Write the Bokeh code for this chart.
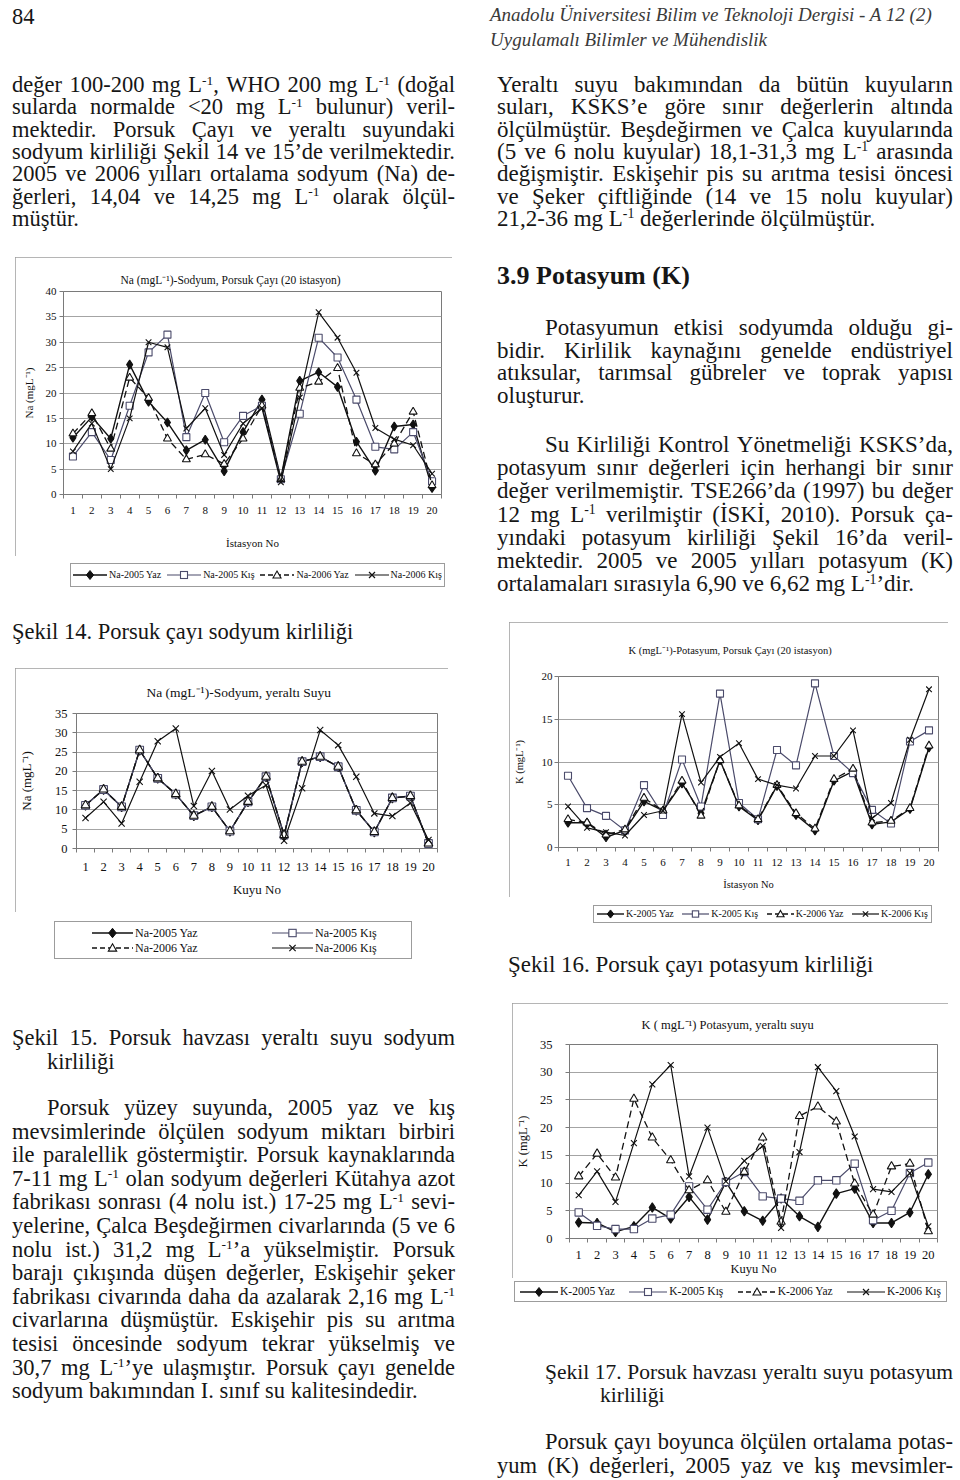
import re
from bokeh.plotting import figure
from bokeh.models import Div, FixedTicker, Range1d, Spacer
from bokeh.layouts import column, row
from bokeh.embed import file_html
from bokeh.resources import INLINE

SERIF = "Liberation Serif"

# ---------------- data ----------------
stations = list(range(1, 21))
season_names = ["2005 Yaz", "2005 Kış", "2006 Yaz", "2006 Kış"]

# Şekil 14 - Na, Porsuk Çayı (20 istasyon)
na_river_2005_yaz = [11.2, 15.3, 11.0, 25.6, 18.3, 14.2, 8.7, 10.8, 4.6, 12.3,
                     18.7, 3.2, 22.4, 24.1, 21.2, 10.4, 4.7, 13.4, 13.8, 1.3]
na_river_2005_kis = [7.5, 12.3, 6.8, 17.5, 28.0, 31.5, 11.3, 20.0, 10.3, 15.5,
                     17.5, 3.0, 15.9, 30.9, 27.0, 18.7, 9.4, 8.9, 12.3, 2.6]
na_river_2006_yaz = [12.0, 16.0, 9.0, 23.0, 19.0, 11.0, 6.9, 7.9, 6.0, 11.0,
                     17.5, 3.0, 21.0, 22.2, 24.9, 8.1, 5.9, 10.0, 16.3, 1.8]
na_river_2006_kis = [8.5, 14.0, 5.0, 15.0, 30.0, 29.0, 13.0, 17.0, 7.8, 14.0,
                     17.0, 2.4, 19.1, 35.9, 30.9, 24.0, 13.1, 10.9, 9.7, 4.1]

# Şekil 15 - Na, yeraltı suyu (20 kuyu)
na_well_2005_yaz = [11.2, 15.3, 10.8, 25.5, 18.2, 14.1, 8.5, 10.8, 4.5, 12.1,
                    18.6, 3.5, 22.5, 23.8, 21.2, 9.9, 4.3, 13.1, 13.6, 1.3]
na_well_2005_kis = [11.2, 15.3, 10.8, 25.5, 18.2, 14.1, 8.5, 10.8, 4.5, 12.1,
                    18.6, 3.5, 22.5, 23.8, 21.2, 9.9, 4.3, 13.1, 13.6, 1.3]
na_well_2006_yaz = [11.2, 15.3, 10.8, 25.5, 18.2, 14.1, 8.5, 10.8, 4.5, 12.1,
                    18.6, 3.5, 22.5, 23.8, 21.2, 9.9, 4.3, 13.1, 13.6, 1.3]
na_well_2006_kis = [7.9, 12.1, 6.5, 17.3, 27.8, 31.1, 11.0, 20.1, 10.1, 13.7,
                    16.4, 2.0, 15.6, 30.7, 26.8, 18.6, 9.1, 8.4, 11.8, 2.2]

# Şekil 16 - K, Porsuk Çayı (20 istasyon)
k_river_2005_yaz = [2.9, 2.9, 1.2, 2.0, 5.4, 4.3, 7.5, 4.0, 10.2, 4.8,
                    3.2, 7.2, 3.8, 2.0, 7.8, 8.9, 2.7, 3.0, 4.5, 11.7]
k_river_2005_kis = [8.4, 4.6, 3.7, 2.0, 7.3, 3.8, 10.3, 4.8, 18.0, 5.2,
                    3.3, 11.4, 9.6, 19.2, 10.7, 8.7, 4.4, 2.8, 12.4, 13.7]
k_river_2006_yaz = [3.3, 2.9, 1.5, 2.1, 5.8, 4.3, 7.8, 3.7, 10.2, 4.9,
                    3.3, 7.3, 4.0, 2.2, 8.0, 9.2, 2.9, 3.1, 4.6, 11.9]
k_river_2006_kis = [4.8, 2.3, 1.8, 1.4, 3.8, 4.3, 15.6, 7.6, 10.6, 12.2,
                    8.0, 7.3, 6.9, 10.7, 10.7, 13.7, 3.4, 5.2, 12.6, 18.5]

# Şekil 17 - K, yeraltı suyu (20 kuyu)
k_well_2005_yaz = [2.9, 2.8, 1.2, 2.2, 5.6, 3.6, 7.5, 3.4, 10.2, 4.9,
                   3.2, 7.2, 4.0, 2.1, 8.1, 9.0, 2.8, 2.8, 4.7, 11.6]
k_well_2005_kis = [4.7, 2.3, 1.7, 1.7, 3.6, 4.3, 9.4, 5.2, 10.2, 12.0,
                   7.6, 7.2, 6.8, 10.5, 10.5, 13.5, 3.3, 5.0, 11.8, 13.7]
k_well_2006_yaz = [11.2, 15.3, 11.0, 25.2, 18.2, 14.1, 8.7, 10.5, 4.8, 12.0,
                   18.2, 3.0, 22.1, 23.8, 21.1, 9.9, 4.3, 13.0, 13.5, 1.3]
k_well_2006_kis = [7.8, 12.1, 6.6, 17.2, 27.8, 31.3, 11.2, 20.0, 10.3, 14.0,
                   16.7, 1.9, 15.6, 30.9, 26.6, 18.4, 8.9, 8.4, 11.8, 2.2]

# ---------------- styles ----------------
STYLE = {
    "2005 Yaz": dict(marker="diamond", color="#111111", fill="#111111", dash="solid", size=9, lw=1.4),
    "2005 Kış": dict(marker="square", color="#4b4b6b", fill="white", dash="solid", size=7, lw=1.2),
    "2006 Yaz": dict(marker="triangle", color="#111111", fill="white", dash="7 4", size=8, lw=1.3),
    "2006 Kış": dict(marker="x", color="#111111", fill=None, dash="solid", size=8, lw=1.2),
}
BOX = {"outline": "1px solid #9c9c9c", "outline-offset": "-1px"}


def make_plot(cfg, series):
    p = figure(width=cfg["w"], height=cfg["h"],
               x_range=Range1d(0.5, 20.5), y_range=Range1d(0, cfg["ymax"]),
               output_backend="svg", toolbar_location=None,
               min_border_left=cfg["ml"], min_border_right=cfg["mr"],
               min_border_top=cfg["mt"], min_border_bottom=cfg["mb"])
    p.background_fill_color = "white"
    p.border_fill_color = "white"
    p.outline_line_color = "#7a7a7a"

    p.title.text = cfg["title"]
    p.title.text_font = SERIF
    p.title.text_font_size = cfg["title_size"]
    p.title.text_font_style = "normal"
    p.title.text_color = "#111111"
    p.title.align = "left"
    p.title.offset = cfg["title_off"]
    p.title.standoff = cfg["title_stand"]

    xa = p.xaxis[0]
    xa.ticker = FixedTicker(ticks=stations, minor_ticks=[s + 0.5 for s in range(0, 21)])
    xa.major_tick_line_color = None
    xa.minor_tick_in = 0
    xa.minor_tick_out = 4
    xa.minor_tick_line_color = "#7a7a7a"
    xa.axis_line_color = "#7a7a7a"
    xa.major_label_text_font = SERIF
    xa.major_label_text_font_size = cfg["tick_size"]
    xa.major_label_text_color = "#111111"
    xa.major_label_standoff = cfg["xstand"]
    xa.axis_label = cfg["xlabel"]
    xa.axis_label_text_font = SERIF
    xa.axis_label_text_font_size = cfg["label_size"]
    xa.axis_label_text_font_style = "normal"
    xa.axis_label_text_color = "#111111"
    xa.axis_label_standoff = cfg["xlab_stand"]

    ya = p.yaxis[0]
    ya.ticker = FixedTicker(ticks=list(range(0, cfg["ymax"] + 1, 5)), minor_ticks=[])
    ya.major_tick_in = 0
    ya.major_tick_out = 4
    ya.major_tick_line_color = "#7a7a7a"
    ya.axis_line_color = "#7a7a7a"
    ya.major_label_text_font = SERIF
    ya.major_label_text_font_size = cfg["tick_size"]
    ya.major_label_text_color = "#111111"
    ya.major_label_standoff = cfg["ystand"]
    ya.axis_label = cfg["ylabel"]
    ya.axis_label_text_font = SERIF
    ya.axis_label_text_font_size = cfg["label_size"]
    ya.axis_label_text_font_style = "normal"
    ya.axis_label_text_color = "#111111"
    ya.axis_label_standoff = cfg["ylab_stand"]

    p.xgrid.visible = False
    p.ygrid.grid_line_color = "#a4a4a4"
    p.ygrid.grid_line_width = 1

    for name, ys in zip(season_names, series):
        st = STYLE[name]
        p.line(stations, ys, line_color=st["color"], line_width=st["lw"], line_dash=st["dash"])
        p.scatter(stations, ys, marker=st["marker"], size=st["size"] * cfg["msize"],
                  line_color=st["color"], fill_color=st["fill"], line_width=1.1)
    return p


# ---------------- legend (key) strip under each chart ----------------
def key_icon(name, w, h, scale):
    st = STYLE[name]
    cy, cx = h / 2, w / 2
    r = st["size"] * scale / 2
    dash = ' stroke-dasharray="5 3"' if st["dash"] != "solid" else ""
    out = [f'<line x1="0" y1="{cy}" x2="{w}" y2="{cy}" stroke="{st["color"]}" '
           f'stroke-width="{st["lw"]}"{dash}/>']
    m = st["marker"]
    if m == "diamond":
        out.append(f'<polygon points="{cx},{cy - r} {cx + r * 0.8},{cy} {cx},{cy + r} {cx - r * 0.8},{cy}" '
                   f'fill="{st["fill"]}" stroke="{st["color"]}" stroke-width="1"/>')
    elif m == "square":
        out.append(f'<rect x="{cx - r}" y="{cy - r}" width="{2 * r}" height="{2 * r}" '
                   f'fill="white" stroke="{st["color"]}" stroke-width="1.1"/>')
    elif m == "triangle":
        out.append(f'<polygon points="{cx},{cy - r} {cx + r},{cy + r * 0.75} {cx - r},{cy + r * 0.75}" '
                   f'fill="white" stroke="{st["color"]}" stroke-width="1.1"/>')
    else:
        k = r * 0.75
        out.append(f'<path d="M{cx - k},{cy - k} L{cx + k},{cy + k} M{cx - k},{cy + k} L{cx + k},{cy - k}" '
                   f'stroke="{st["color"]}" stroke-width="1.2" fill="none"/>')
    return f'<svg width="{w}" height="{h}" style="display:block;flex:none;">{"".join(out)}</svg>'


def key_item(prefix, name, kc):
    return (f'<div style="display:flex;align-items:center;white-space:nowrap;">'
            f'{key_icon(name, kc["glyph_w"], kc["glyph_h"], kc["scale"])}'
            f'<span style="margin-left:{kc["standoff"]}px;font-size:{kc["size"]}px;line-height:1;">'
            f'{prefix}-{name}</span></div>')


def key_div(cfg, prefix):
    kc = cfg["key"]
    bx = (f'position:absolute;left:{kc["left"]}px;top:{kc["top"]}px;width:{kc["bw"]}px;'
          f'height:{kc["bh"]}px;border:1px solid #9c9c9c;box-sizing:border-box;background:white;')
    if "rows" in kc:
        inner = ""
        for yc, entries in kc["rows"]:
            for idx, xr in entries:
                inner += (f'<div style="position:absolute;left:{xr}px;top:{yc - kc["glyph_h"] / 2}px;">'
                          f'{key_item(prefix, season_names[idx], kc)}</div>')
        box = f'<div style="{bx}">{inner}</div>'
    else:
        items = "".join(key_item(prefix, n, kc) for n in season_names)
        box = (f'<div style="{bx}display:flex;align-items:center;justify-content:space-between;'
               f'padding:0 {kc["pad"]}px;">{items}</div>')
    html = (f'<div style="position:relative;width:{cfg["w"]}px;height:{kc["h"]}px;'
            f'font-family:\'Liberation Serif\',serif;color:#111;background:white;">{box}</div>')
    return Div(text=html, width=cfg["w"], height=kc["h"], margin=0)


cfg14 = dict(w=437, h=299, ml=48, mr=11, mt=34, mb=62, ymax=40,
             title="Na (mgL⁻¹)-Sodyum, Porsuk Çayı (20 istasyon)", title_size="11.5px",
             title_off=57, title_stand=11, tick_size="11px", label_size="11px",
             xstand=6, xlab_stand=20, ystand=3, ylab_stand=8,
             xlabel="İstasyon No", ylabel="Na (mgL⁻¹)", msize=1.0,
             key=dict(h=36, left=55, top=7, bw=375, bh=24, pad=2, size=10,
                      glyph_w=34, glyph_h=14, standoff=2, scale=1.0))
cfg15 = dict(w=433, h=244, ml=57, mr=11, mt=45, mb=64, ymax=35,
             title="Na (mgL⁻¹)-Sodyum, yeraltı Suyu", title_size="13.5px",
             title_off=70, title_stand=28, tick_size="12.5px", label_size="13px",
             xstand=8, xlab_stand=8, ystand=5, ylab_stand=18,
             xlabel="Kuyu No", ylabel="Na (mgL⁻¹)", msize=1.1,
             key=dict(h=60, left=39, top=9, bw=358, bh=38, size=12,
                      glyph_w=41, glyph_h=14, standoff=2, scale=1.05,
                      rows=[(10.7, [(0, 37), (1, 217)]), (25.7, [(2, 37), (3, 217)])]))
cfg16 = dict(w=439, h=275, ml=49, mr=10, mt=51, mb=50, ymax=20,
             title="K (mgL⁻¹)-Potasyum, Porsuk Çayı (20 istasyon)", title_size="10.5px",
             title_off=70, title_stand=41, tick_size="11px", label_size="10.5px",
             xstand=5, xlab_stand=10, ystand=2, ylab_stand=14,
             xlabel="İstasyon No", ylabel="K (mgL⁻¹)", msize=1.0,
             key=dict(h=36, left=84, top=8, bw=339, bh=18, pad=3, size=10,
                      glyph_w=27, glyph_h=12, standoff=2, scale=0.9))
cfg17 = dict(w=436, h=275, ml=56, mr=11, mt=38, mb=39, ymax=35,
             title="K ( mgL⁻¹) Potasyum, yeraltı suyu", title_size="12.5px",
             title_off=72, title_stand=25, tick_size="12.5px", label_size="12.5px",
             xstand=6, xlab_stand=0, ystand=13, ylab_stand=7,
             xlabel="Kuyu No", ylabel="K (mgL⁻¹)", msize=1.05,
             key=dict(h=27, left=2, top=3, bw=433, bh=21, pad=5, size=11.5,
                      glyph_w=38, glyph_h=14, standoff=2, scale=1.0))


def chart_box(cfg, prefix, series):
    return column(make_plot(cfg, series), key_div(cfg, prefix), spacing=0, styles=BOX)


box14 = chart_box(cfg14, "Na", [na_river_2005_yaz, na_river_2005_kis, na_river_2006_yaz, na_river_2006_kis])
box15 = chart_box(cfg15, "Na", [na_well_2005_yaz, na_well_2005_kis, na_well_2006_yaz, na_well_2006_kis])
box16 = chart_box(cfg16, "K", [k_river_2005_yaz, k_river_2005_kis, k_river_2006_yaz, k_river_2006_kis])
box17 = chart_box(cfg17, "K", [k_well_2005_yaz, k_well_2005_kis, k_well_2006_yaz, k_well_2006_kis])


# ---------------- page text ----------------
def sup(t):
    return re.sub(r"\^\{([^}]*)\}",
                  r'<span style="font-size:0.6em;position:relative;top:-0.55em;">\1</span>', t)


def text_line(x, yc, text, width=None, size=22.5, lh=22, style=""):
    top = yc - lh / 2
    base = (f"position:absolute;left:{x:.1f}px;top:{top:.1f}px;font-size:{size}px;"
            f"line-height:{lh}px;white-space:nowrap;{style}")
    if width:
        spans = "".join(f"<span>{sup(w)}</span>" for w in text.split(" "))
        return (f'<div style="{base}width:{width}px;display:flex;'
                f'justify-content:space-between;">{spans}</div>')
    return f'<div style="{base}">{sup(text)}</div>'


def text_block(x0, y0, w, h, lines):
    parts = [text_line(x - x0, y - y0, t, **kw) for (x, y, t, kw) in lines]
    html = (f'<div style="position:relative;width:{w}px;height:{h}px;'
            f'font-family:\'Liberation Serif\',serif;color:#161616;">' + "".join(parts) + "</div>")
    return Div(text=html, width=w, height=h, margin=0)


def paragraph(x, y0, pitch, width, lines, indent=0, size=22.5):
    out = []
    for i, t in enumerate(lines):
        xi = x + (indent if i == 0 else 0)
        wi = width - (indent if i == 0 else 0)
        kw = {"width": wi} if i < len(lines) - 1 else {}
        kw["size"] = size
        out.append((xi, y0 + i * pitch, t, kw))
    return out


left_top_lines = [
    "değer 100-200 mg L^{-1}, WHO 200 mg L^{-1} (doğal",
    "sularda normalde &lt;20 mg L^{-1} bulunur) veril-",
    "mektedir. Porsuk Çayı ve yeraltı suyundaki",
    "sodyum kirliliği Şekil 14 ve 15’de verilmektedir.",
    "2005 ve 2006 yılları ortalama sodyum (Na) de-",
    "ğerleri, 14,04 ve 14,25 mg L^{-1} olarak ölçül-",
    "müştür.",
]
right_top_lines = [
    "Yeraltı suyu bakımından da bütün kuyuların",
    "suları, KSKS’e göre sınır değerlerin altında",
    "ölçülmüştür. Beşdeğirmen ve Çalca kuyularında",
    "(5 ve 6 nolu kuyular) 18,1-31,3 mg L^{-1} arasında",
    "değişmiştir. Eskişehir pis su arıtma tesisi öncesi",
    "ve Şeker çiftliğinde (14 ve 15 nolu kuyular)",
    "21,2-36 mg L^{-1} değerlerinde ölçülmüştür.",
]
potasyum_p1 = [
    "Potasyumun etkisi sodyumda olduğu gi-",
    "bidir. Kirlilik kaynağını genelde endüstriyel",
    "atıksular, tarımsal gübreler ve toprak yapısı",
    "oluşturur.",
]
potasyum_p2 = [
    "Su Kirliliği Kontrol Yönetmeliği KSKS’da,",
    "potasyum sınır değerleri için herhangi bir sınır",
    "değer verilmemiştir. TSE266’da (1997) bu değer",
    "12 mg L^{-1} verilmiştir (İSKİ, 2010). Porsuk ça-",
    "yındaki potasyum kirliliği Şekil 16’da veril-",
    "mektedir. 2005 ve 2005 yılları potasyum (K)",
    "ortalamaları sırasıyla 6,90 ve 6,62 mg L^{-1}’dir.",
]
left_bottom_lines = [
    "Porsuk yüzey suyunda, 2005 yaz ve kış",
    "mevsimlerinde ölçülen sodyum miktarı birbiri",
    "ile paralellik göstermiştir. Porsuk kaynaklarında",
    "7-11 mg L^{-1} olan sodyum değerleri Kütahya azot",
    "fabrikası sonrası (4 nolu ist.) 17-25 mg L^{-1} sevi-",
    "yelerine, Çalca Beşdeğirmen civarlarında (5 ve 6",
    "nolu ist.) 31,2 mg L^{-1}’a yükselmiştir. Porsuk",
    "barajı çıkışında düşen değerler, Eskişehir şeker",
    "fabrikası civarında daha da azalarak 2,16 mg L^{-1}",
    "civarlarına düşmüştür. Eskişehir pis su arıtma",
    "tesisi öncesinde sodyum tekrar yükselmiş ve",
    "30,7 mg L^{-1}’ye ulaşmıştır. Porsuk çayı genelde",
    "sodyum bakımından I. sınıf su kalitesindedir.",
]

RS = 23    # right column body size
CS = 21.5  # Şekil 17 caption size

# left column blocks (page origin at 0,0)
L1 = text_block(0, 0, 480, 257,
                [(12, 17, "84", {})] + paragraph(12, 85, 22.3, 443, left_top_lines))
L2 = text_block(0, 592, 480, 76, [(12, 632, "Şekil 14. Porsuk çayı sodyum kirliliği", {})])
L3 = text_block(0, 972, 480, 504,
                [(12, 1038, "Şekil 15. Porsuk havzası yeraltı suyu sodyum", {"width": 443}),
                 (47, 1062, "kirliliği", {})]
                + paragraph(12, 1108, 23.6, 443, left_bottom_lines, indent=35))

# right column blocks
ital = "font-style:italic;color:#3a3a3a;"
R1 = text_block(480, 0, 478, 622,
                [(490, 15, "Anadolu Üniversitesi Bilim ve Teknoloji Dergisi - A 12 (2)",
                  {"size": 19, "style": ital}),
                 (490, 40, "Uygulamalı Bilimler ve Mühendislik", {"size": 19, "style": ital})]
                + paragraph(497, 85, 22.3, 456, right_top_lines, size=RS)
                + [(497, 276, "3.9 Potasyum (K)", {"size": 26, "lh": 28, "style": "font-weight:bold;"})]
                + paragraph(497, 328, 22.7, 456, potasyum_p1, indent=48, size=RS)
                + paragraph(497, 445, 23.2, 456, potasyum_p2, indent=48, size=RS))
R2 = text_block(480, 933, 478, 70,
                [(508, 965, "Şekil 16. Porsuk çayı potasyum kirliliği", {"size": RS})])
R3 = text_block(480, 1305, 478, 171,
                [(545, 1372, "Şekil 17. Porsuk havzası yeraltı suyu potasyum", {"width": 408, "size": CS}),
                 (600, 1395, "kirliliği", {"size": CS}),
                 (545, 1442, "Porsuk çayı boyunca ölçülen ortalama potas-", {"width": 408, "size": 22.5}),
                 (497, 1466, "yum (K) değerleri, 2005 yaz ve kış mevsimler-", {"width": 456, "size": 22.5})])

left_col = column(L1,
                  row(Spacer(width=15, height=335), box14, spacing=0),
                  L2,
                  row(Spacer(width=15, height=304), box15, spacing=0),
                  L3, spacing=0)
right_col = column(R1,
                   row(Spacer(width=29, height=311), box16, spacing=0),
                   R2,
                   row(Spacer(width=32, height=302), box17, spacing=0),
                   R3, spacing=0)
page = row(left_col, right_col, spacing=0)

open("out.html", "w").write(file_html(page, INLINE, title="Şekil 14-17"))
